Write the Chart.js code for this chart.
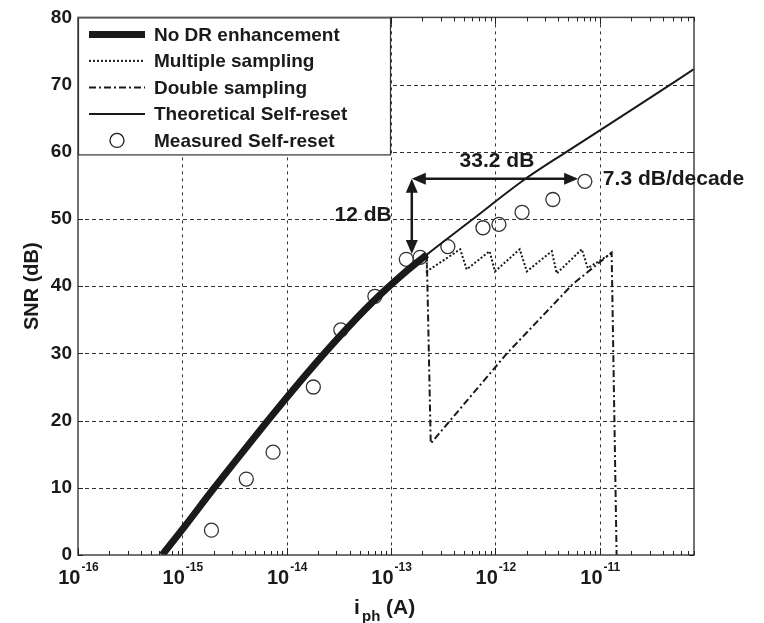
<!DOCTYPE html>
<html>
<head>
<meta charset="utf-8">
<script src="https://cdn.jsdelivr.net/npm/chart.js@4.4.1/dist/chart.umd.min.js"></script>
<style>
html,body{margin:0;padding:0;background:#fff;}
</style>
</head>
<body>
<canvas id="snr" width="764" height="623"></canvas>
<script>
// photocurrent (A) / SNR (dB)
var noDrI   = [6.4e-16, 1e-15, 2e-15, 4e-15, 8e-15, 1.6e-14, 3.2e-14, 6.4e-14, 1.3e-13, 2.2e-13];
var noDrSnr = [0, 3.8, 9.9, 15.8, 21.6, 27.2, 32.5, 37.4, 41.8, 44.7];

var multiI   = [2.2e-13, 2.2e-13, 4.6e-13, 5.3e-13, 8.8e-13, 9.9e-13, 1.71e-12, 2.0e-12, 3.47e-12, 3.87e-12, 6.73e-12, 7.67e-12, 1.3e-11];
var multiSnr = [44.7, 42.2, 45.5, 42.5, 45.2, 42.2, 45.5, 42.2, 45.2, 41.9, 45.5, 42.7, 44.9];

var doubleI   = [2.2e-13, 2.4e-13, 1.29e-12, 5.5e-12, 1.3e-11, 1.45e-11];
var doubleSnr = [44.7, 16.6, 30, 40.3, 45, 0];

var theoryI   = [6.4e-16, 1e-15, 2e-15, 4e-15, 8e-15, 1.6e-14, 3.2e-14, 6.4e-14, 1.3e-13, 2.2e-13, 6.1e-13, 1.83e-12, 4.8e-12, 2e-11, 8e-11];
var theorySnr = [0, 3.8, 9.9, 15.8, 21.6, 27.2, 32.5, 37.4, 41.8, 44.7, 50, 55.7, 60, 66.2, 72.3];

var measI   = [1.9e-15, 4.1e-15, 7.4e-15, 1.8e-14, 3.3e-14, 7.0e-14, 1.4e-13, 1.9e-13, 3.5e-13, 7.6e-13, 1.08e-12, 1.8e-12, 3.55e-12, 7.2e-12];
var measSnr = [3.7, 11.3, 15.3, 25.0, 33.5, 38.5, 44.0, 44.3, 45.9, 48.7, 49.2, 51.0, 52.9, 55.6];

var xDecades = [1e-16, 1e-15, 1e-14, 1e-13, 1e-12, 1e-11];
var xExpLabels = ['-16', '-15', '-14', '-13', '-12', '-11'];
var yTicks = [0, 10, 20, 30, 40, 50, 60, 70, 80];

function pts(xs, ys) {
  var out = [];
  for (var i = 0; i < xs.length; i++) out.push({x: xs[i], y: ys[i]});
  return out;
}

var FONT = "'Liberation Sans', Arial, sans-serif";
var INK = '#1a1a1a';

function arrowHead(c, x, y, ang) {
  c.save();
  c.translate(x, y);
  c.rotate(ang);
  c.beginPath();
  c.moveTo(0, 0);
  c.lineTo(-14, -6);
  c.lineTo(-14, 6);
  c.closePath();
  c.fill();
  c.restore();
}

var decor = {
  id: 'decor',
  beforeDatasetsDraw: function(chart) {
    var c = chart.ctx, a = chart.chartArea, xs = chart.scales.x, ys = chart.scales.y;
    c.save();
    c.strokeStyle = '#333';
    c.lineWidth = 1;
    c.setLineDash([4, 3]);
    yTicks.forEach(function(v) {
      if (v === 0 || v === 80) return;
      var y = Math.round(ys.getPixelForValue(v)) + 0.5;
      c.beginPath(); c.moveTo(a.left, y); c.lineTo(a.right, y); c.stroke();
    });
    c.setLineDash([3, 4]);
    xDecades.forEach(function(v, i) {
      if (i === 0) return;
      var x = Math.round(xs.getPixelForValue(v)) + 0.5;
      c.beginPath(); c.moveTo(x, a.top); c.lineTo(x, a.bottom); c.stroke();
    });
    c.restore();
  },
  afterDatasetsDraw: function(chart) {
    var c = chart.ctx, a = chart.chartArea, xs = chart.scales.x, ys = chart.scales.y;
    c.save();
    // frame
    c.strokeStyle = '#444';
    c.lineWidth = 1.5;
    c.setLineDash([]);
    c.strokeRect(a.left, a.top, a.right - a.left, a.bottom - a.top);

    // minor ticks along x
    c.lineWidth = 1;
    c.strokeStyle = '#222';
    for (var d = 0; d < xDecades.length; d++) {
      for (var m = 1; m <= 9; m++) {
        var v = xDecades[d] * m;
        if (v > xs.max) break;
        var x = Math.round(xs.getPixelForValue(v)) + 0.5;
        var len = m === 1 ? 7 : 4;
        c.beginPath(); c.moveTo(x, a.bottom); c.lineTo(x, a.bottom - len); c.stroke();
        c.beginPath(); c.moveTo(x, a.top); c.lineTo(x, a.top + len); c.stroke();
      }
    }
    yTicks.forEach(function(v) {
      var y = Math.round(ys.getPixelForValue(v)) + 0.5;
      c.beginPath(); c.moveTo(a.left, y); c.lineTo(a.left + 5, y); c.stroke();
      c.beginPath(); c.moveTo(a.right, y); c.lineTo(a.right - 5, y); c.stroke();
    });

    // x tick labels 10^n
    c.fillStyle = INK;
    xDecades.forEach(function(v, i) {
      var x = xs.getPixelForValue(v);
      c.font = 'bold 20px ' + FONT;
      var wb = c.measureText('10').width;
      c.font = 'bold 12px ' + FONT;
      var we = c.measureText(xExpLabels[i]).width;
      var x0 = x - (wb + we) / 2;
      c.textBaseline = 'alphabetic';
      c.textAlign = 'left';
      c.font = 'bold 20px ' + FONT;
      c.fillText('10', x0, a.bottom + 29);
      c.font = 'bold 12px ' + FONT;
      c.fillText(xExpLabels[i], x0 + wb + 1, a.bottom + 16);
    });

    // axis titles
    c.font = 'bold 21px ' + FONT;
    c.textAlign = 'left';
    c.fillText('i', 354, 614);
    c.font = 'bold 15px ' + FONT;
    c.fillText('ph', 362, 621);
    c.font = 'bold 21px ' + FONT;
    c.fillText('(A)', 386, 614);

    c.save();
    c.translate(32, (a.top + a.bottom) / 2);
    c.rotate(-Math.PI / 2);
    c.textAlign = 'center';
    c.textBaseline = 'middle';
    c.font = 'bold 20px ' + FONT;
    c.fillText('SNR (dB)', 0, 0);
    c.restore();

    // annotations (data coordinates)
    var cx = xs.getPixelForValue(1.58e-13), cy = ys.getPixelForValue(56);
    var hx = xs.getPixelForValue(6.2e-12), vy = ys.getPixelForValue(44.8);
    c.strokeStyle = INK;
    c.lineWidth = 2.5;
    c.beginPath(); c.moveTo(cx + 6, cy); c.lineTo(hx - 10, cy); c.stroke();
    c.beginPath(); c.moveTo(cx, cy + 6); c.lineTo(cx, vy - 10); c.stroke();
    arrowHead(c, cx, cy, Math.PI);
    arrowHead(c, hx, cy, 0);
    arrowHead(c, cx, cy, -Math.PI / 2);
    arrowHead(c, cx, vy, Math.PI / 2);

    c.font = 'bold 21px ' + FONT;
    c.textBaseline = 'middle';
    c.textAlign = 'center';
    c.fillText('33.2 dB', (cx + hx) / 2 + 2, cy - 17);
    c.textAlign = 'right';
    c.fillText('12 dB', cx - 20, ys.getPixelForValue(50.6));
    c.textAlign = 'left';
    c.fillText('7.3 dB/decade', xs.getPixelForValue(7.2e-12) + 18, ys.getPixelForValue(55.9));

    // legend box
    var lx = a.left, ly = a.top, lw = 312, lh = 137;
    c.fillStyle = '#fff';
    c.fillRect(lx, ly, lw, lh);
    c.strokeStyle = '#333';
    c.lineWidth = 1.2;
    c.strokeRect(lx + 0.5, ly + 0.5, lw, lh);
    chart.data.datasets.forEach(function(ds, i) {
      var y = ly + 17 + i * 26.5;
      c.strokeStyle = INK;
      if (ds.showLine === false) {
        c.lineWidth = ds.borderWidth;
        c.setLineDash([]);
        c.beginPath(); c.arc(lx + 39, y, ds.pointRadius, 0, Math.PI * 2); c.stroke();
      } else {
        c.lineWidth = ds.borderWidth;
        c.setLineDash(ds.borderDash || []);
        c.beginPath(); c.moveTo(lx + 11, y); c.lineTo(lx + 67, y); c.stroke();
      }
      c.setLineDash([]);
      c.fillStyle = INK;
      c.font = 'bold 19px ' + FONT;
      c.textAlign = 'left';
      c.textBaseline = 'middle';
      c.fillText(ds.label, lx + 76, y + 1);
    });
    c.restore();
  }
};

new Chart(document.getElementById('snr'), {
  type: 'scatter',
  data: {
    datasets: [
      {label: 'No DR enhancement', data: pts(noDrI, noDrSnr), showLine: true, borderColor: INK, borderWidth: 7, pointRadius: 0, cubicInterpolationMode: 'monotone', borderCapStyle: 'butt'},
      {label: 'Multiple sampling', data: pts(multiI, multiSnr), showLine: true, borderColor: INK, borderWidth: 2, borderDash: [2, 2], pointRadius: 0},
      {label: 'Double sampling', data: pts(doubleI, doubleSnr), showLine: true, borderColor: INK, borderWidth: 2, borderDash: [7, 3, 2, 3], pointRadius: 0},
      {label: 'Theoretical Self-reset', data: pts(theoryI, theorySnr), showLine: true, borderColor: INK, borderWidth: 2, pointRadius: 0, cubicInterpolationMode: 'monotone'},
      {label: 'Measured Self-reset', data: pts(measI, measSnr), showLine: false, borderColor: '#333', backgroundColor: 'rgba(0,0,0,0)', borderWidth: 1.3, pointRadius: 7}
    ]
  },
  options: {
    responsive: false,
    animation: false,
    layout: {padding: {top: 15, right: 70, left: 0, bottom: 0}},
    plugins: {legend: {display: false}, tooltip: {enabled: false}},
    scales: {
      x: {
        type: 'logarithmic', min: 1e-16, max: 8e-11,
        grid: {display: false}, border: {display: false},
        ticks: {display: false},
        afterFit: function(s) { s.height = 68; }
      },
      y: {
        min: 0, max: 80,
        grid: {display: false, drawTicks: false}, border: {display: false},
        ticks: {stepSize: 10, padding: 6, color: INK, font: {family: FONT, weight: 'bold', size: 19}},
        afterFit: function(s) { s.width = 78; }
      }
    }
  },
  plugins: [decor]
});
</script>
</body>
</html>
